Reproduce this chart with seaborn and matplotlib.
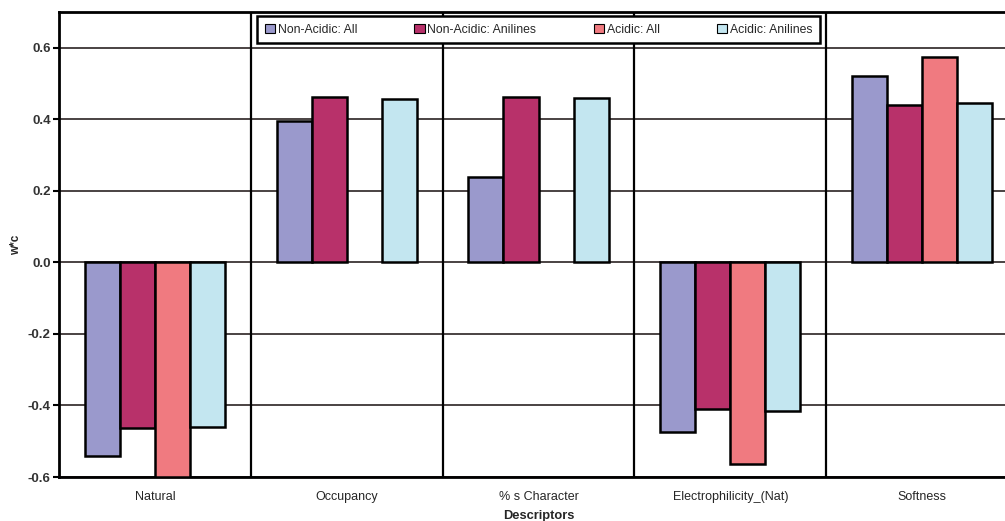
import numpy as np
import pandas as pd
import matplotlib
matplotlib.use('Agg')
import matplotlib.pyplot as plt
import seaborn as sns

# 数据
descriptors = ['Natural', 'Occupancy', '% s Character', 'Electrophilicity_(Nat)', 'Softness']
series_names = ['Non-Acidic: All', 'Non-Acidic: Anilines', 'Acidic: All', 'Acidic: Anilines']
non_acidic_all = [-0.54, 0.395, 0.24, -0.475, 0.52]
non_acidic_anilines = [-0.462, 0.462, 0.463, -0.41, 0.44]
acidic_all = [-0.60, np.nan, np.nan, -0.565, 0.575]
acidic_anilines = [-0.46, 0.456, 0.459, -0.415, 0.445]
colors = ['#9a99cc', '#b8316a', '#f07a80', '#c3e6f0']

rows = []
for name, vals in zip(series_names, [non_acidic_all, non_acidic_anilines, acidic_all, acidic_anilines]):
    for d, v in zip(descriptors, vals):
        rows.append({'Descriptors': d, 'series': name, 'w*c': v})
df = pd.DataFrame(rows)

sns.set_style('white')
plt.rcParams['font.family'] = ['Liberation Sans', 'DejaVu Sans']

fig = plt.figure(figsize=(10.05, 5.21), dpi=100)
ax = fig.add_axes([59 / 1005, 1 - 477 / 521, (1018 - 59) / 1005, (477 - 12) / 521])

sns.barplot(data=df, x='Descriptors', y='w*c', hue='series', order=descriptors,
            hue_order=series_names, palette=colors, width=0.73, saturation=1,
            edgecolor='black', linewidth=1.8, ax=ax, errorbar=None, zorder=3)

ax.set_ylim(-0.6, 0.7)
ax.set_xlim(-0.5, len(descriptors) - 0.5)
yt = np.arange(-0.6, 0.61, 0.2)
ax.set_yticks(yt)
ax.set_yticklabels([f'{t:.1f}' for t in yt], fontsize=9.5, fontweight='bold', color='#333333')
ax.tick_params(axis='y', direction='out', length=4, width=1.5, color='black', left=True, pad=2)
ax.tick_params(axis='x', length=0, labelsize=9, pad=10)

# 网格线和分隔线
ax.yaxis.grid(True, color='#4a4242', linewidth=1.4, zorder=0)
ax.set_axisbelow(True)
for x in np.arange(0.5, len(descriptors) - 0.5, 1):
    ax.axvline(x, color='black', linewidth=1.6, zorder=1)

for s in ax.spines.values():
    s.set_color('black')
    s.set_linewidth(2)

ax.set_xlabel('Descriptors', fontsize=9.3, fontweight='bold', labelpad=5)
ax.set_ylabel('w*c', fontsize=8.5, fontweight='bold', labelpad=4)

leg = ax.legend(loc='upper center', bbox_to_anchor=(0.5, 1.004), ncol=4, fontsize=8.8,
                frameon=True, fancybox=False, edgecolor='black', handlelength=0.85,
                handleheight=0.85, handletextpad=0.2, columnspacing=4.7,
                borderpad=0.6)
leg.get_frame().set_linewidth(1.8)
leg.get_frame().set_facecolor('white')
leg.get_frame().set_alpha(1)
for h in leg.legend_handles:
    h.set_linewidth(0.8)

fig.savefig('out.png', dpi=100)
